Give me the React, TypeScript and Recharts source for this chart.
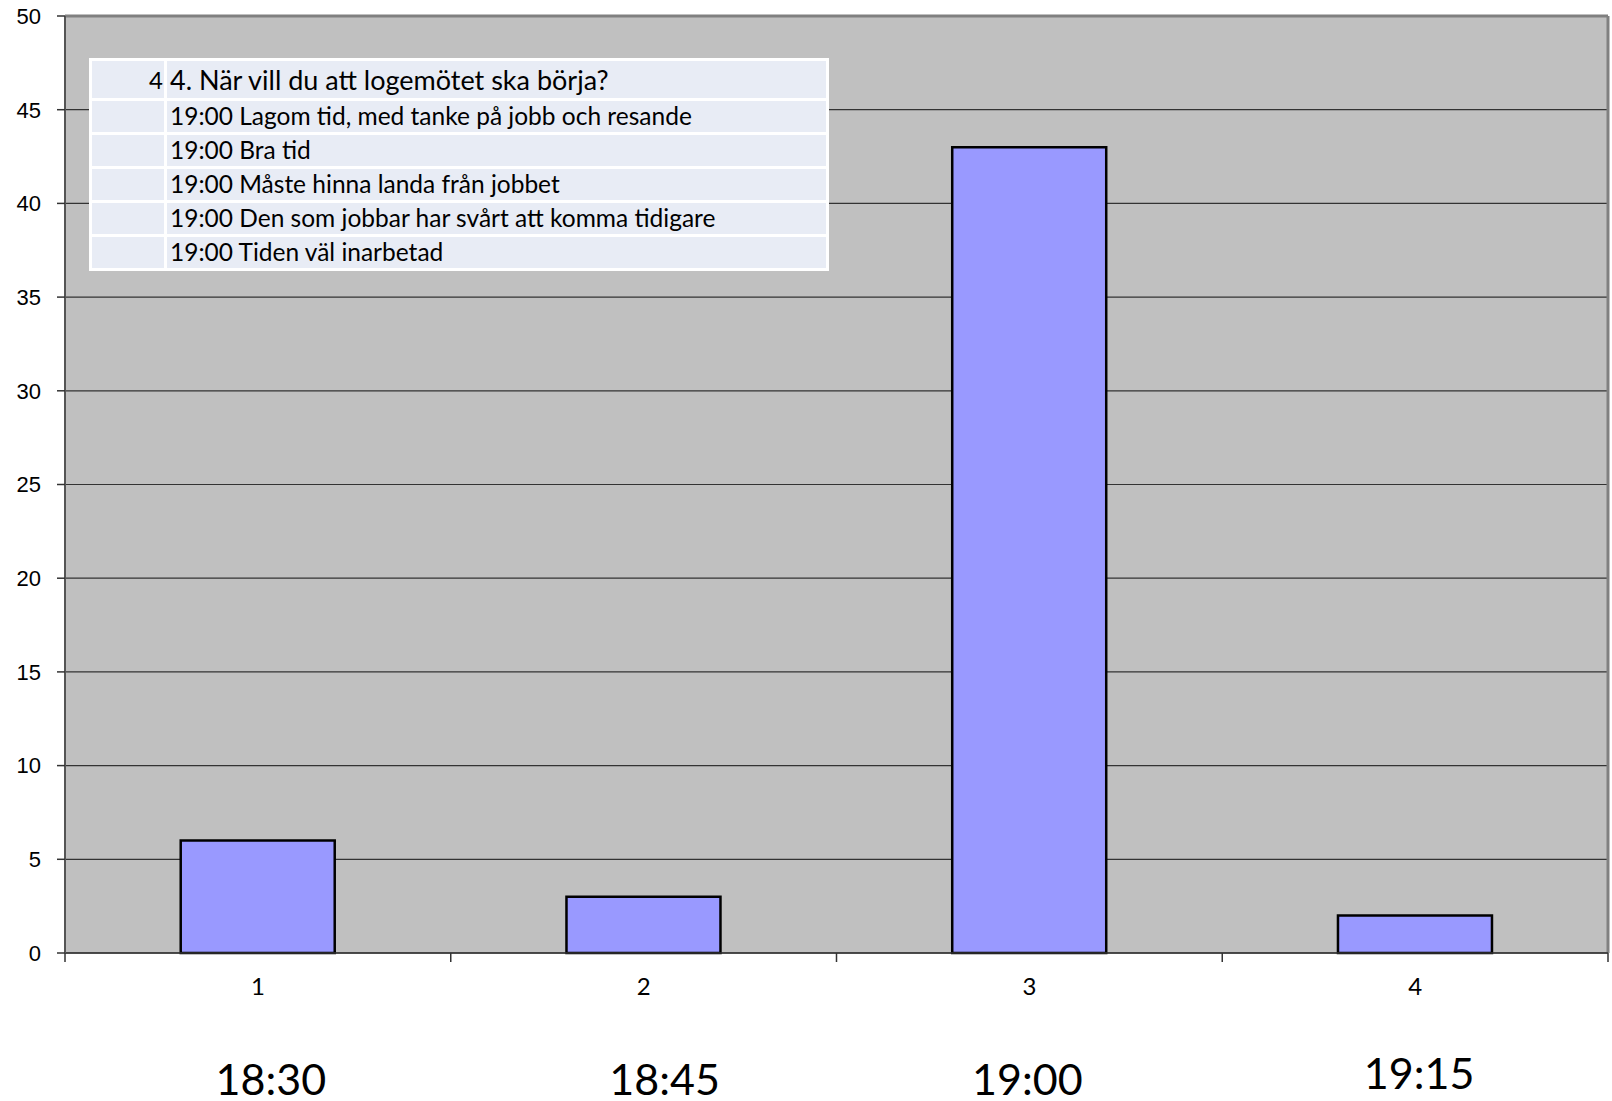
import React from 'react';
import { BarChart, Bar, XAxis, YAxis, CartesianGrid, ReferenceLine } from 'recharts';

const categories = ['1', '2', '3', '4'];
const times = ['18:30', '18:45', '19:00', '19:15'];
const answers = [6, 3, 43, 2];
const yTicks = [0, 5, 10, 15, 20, 25, 30, 35, 40, 45, 50];

const questionNo = '4';
const question = '4. När vill du att logemötet ska börja?';
const comments = [
  '19:00 Lagom tid, med tanke på jobb och resande',
  '19:00 Bra tid',
  '19:00 Måste hinna landa från jobbet',
  '19:00 Den som jobbar har svårt att komma tidigare',
  '19:00 Tiden väl inarbetad',
];

const data = categories.map((c, i) => ({ name: c, time: times[i], value: answers[i] }));

const W = 1612;
const H = 1101;
const PLOT_LEFT = 65;
const PLOT_RIGHT = 4;
const PLOT_W = W - PLOT_LEFT - PLOT_RIGHT;

// the time labels were loose text boxes in the original, not quite centred
const timeShiftX = [13, 21, -2, 4];
const timeShiftY = [0, 0, 0, -6];

const CategoryTick = (props: any) => {
  const { x, y, payload, index } = props;
  const half = PLOT_W / (categories.length * 2);
  return (
    <g>
      <line x1={x - half} x2={x - half} y1={y} y2={y + 9} stroke="#333" strokeWidth={1.5} />
      {index === categories.length - 1 && (
        <line x1={x + half} x2={x + half} y1={y} y2={y + 9} stroke="#333" strokeWidth={1.5} />
      )}
      <text x={x} y={y + 42} textAnchor="middle" fontFamily="Lato" fontSize={24} fill="#000">
        {payload.value}
      </text>
      <text
        x={x + timeShiftX[index]}
        y={y + 142 + timeShiftY[index]}
        textAnchor="middle"
        fontFamily="Lato"
        fontSize={43}
        fill="#000"
      >
        {times[index]}
      </text>
    </g>
  );
};

const cell: React.CSSProperties = {
  border: '3px solid #fff',
  padding: '0 3px',
  fontFamily: 'Lato, sans-serif',
  color: '#000',
  whiteSpace: 'nowrap',
  lineHeight: 1,
};

export default function App() {
  return (
    <div style={{ position: 'absolute', left: 0, top: 0, width: W, height: H, background: '#fff' }}>
      <BarChart
        width={W}
        height={H}
        data={data}
        margin={{ top: 16, right: PLOT_RIGHT, left: 0, bottom: 108 }}
        barCategoryGap="30%"
      >
        <CartesianGrid vertical={false} horizontal={true} fill="#C0C0C0" stroke="#333" strokeWidth={1.2} />
        <CartesianGrid
          horizontal={false}
          verticalCoordinatesGenerator={({ offset }: any) => [offset.left + offset.width]}
          stroke="#808080"
          strokeWidth={3}
        />
        <ReferenceLine y={50} stroke="#808080" strokeWidth={3} />
        <XAxis
          dataKey="name"
          height={40}
          tickSize={0}
          tickMargin={0}
          tick={<CategoryTick />}
          axisLine={{ stroke: '#333', strokeWidth: 1.5 }}
          interval={0}
        />
        <YAxis
          width={PLOT_LEFT}
          domain={[0, 50]}
          ticks={yTicks}
          interval={0}
          tickSize={8}
          tickMargin={16}
          axisLine={{ stroke: '#555', strokeWidth: 2 }}
          tickLine={{ stroke: '#333', strokeWidth: 1.5 }}
          tick={{ fontFamily: 'Liberation Sans, Arial, sans-serif', fontSize: 22, fill: '#000' }}
        />
        <Bar dataKey="value" fill="#9999FF" stroke="#000" strokeWidth={2.5} isAnimationActive={false} />
      </BarChart>
      <table
        style={{
          position: 'absolute',
          left: 89,
          top: 58,
          width: 740,
          borderCollapse: 'collapse',
          background: '#E8ECF5',
          border: '3px solid #fff',
        }}
      >
        <tbody>
          <tr style={{ height: 40 }}>
            <td style={{ ...cell, width: 68, textAlign: 'right', fontSize: 24, paddingRight: 1 }}>{questionNo}</td>
            <td style={{ ...cell, fontSize: 27 }}>{question}</td>
          </tr>
          {comments.map((c) => (
            <tr key={c} style={{ height: 34 }}>
              <td style={cell}></td>
              <td style={{ ...cell, fontSize: 24.5 }}>{c}</td>
            </tr>
          ))}
        </tbody>
      </table>
    </div>
  );
}
